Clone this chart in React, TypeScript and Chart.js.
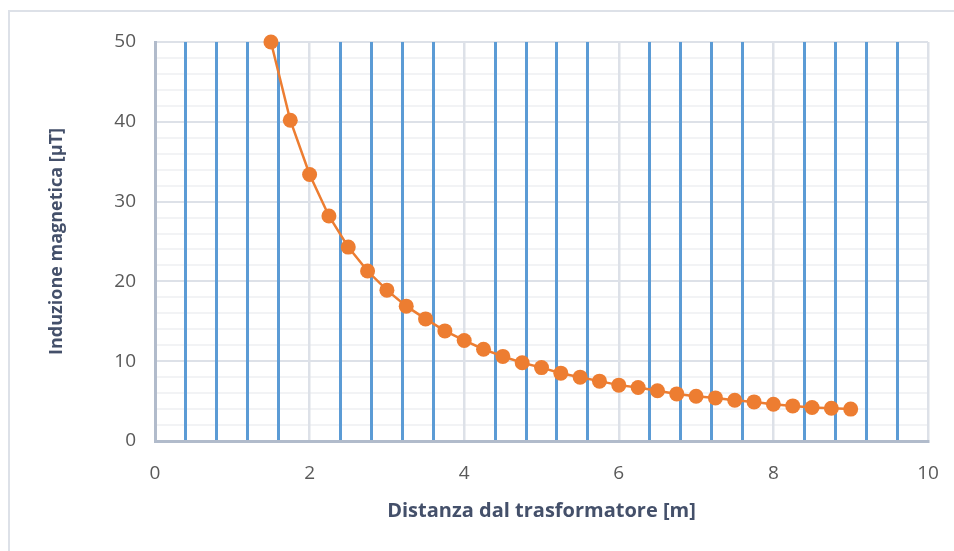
import React, { useEffect, useRef } from "react";
import { Chart, registerables } from "chart.js";

Chart.register(...registerables);

const distances = [1.5, 1.75, 2.0, 2.25, 2.5, 2.75, 3.0, 3.25, 3.5, 3.75, 4.0, 4.25, 4.5, 4.75, 5.0, 5.25, 5.5, 5.75, 6.0, 6.25, 6.5, 6.75, 7.0, 7.25, 7.5, 7.75, 8.0, 8.25, 8.5, 8.75, 9.0];
const induction = [50, 40.2, 33.4, 28.2, 24.3, 21.3, 18.9, 16.9, 15.3, 13.8, 12.6, 11.5, 10.6, 9.8, 9.2, 8.5, 8.0, 7.5, 7.0, 6.7, 6.3, 5.9, 5.6, 5.4, 5.1, 4.9, 4.6, 4.4, 4.2, 4.1, 4.0];
const xTitle = "Distanza dal trasformatore [m]";
const yTitle = "Induzione magnetica [µT]";
const xMin = 0, xMax = 10, xGridStep = 0.4, xLabelStep = 2;
const yMin = 0, yMax = 50, yGridStep = 2, yLabelStep = 10;

const isMultiple = (v: number, s: number) => Math.abs(v / s - Math.round(v / s)) < 1e-6;

const FONT = '"Open Sans", "Liberation Sans", sans-serif';

export default function App() {
  const ref = useRef<HTMLCanvasElement | null>(null);
  useEffect(() => {
    if (!ref.current) return;
    const chart = new Chart(ref.current, {
      type: "scatter",
      data: {
        datasets: [
          {
            data: distances.map((x, i) => ({ x, y: induction[i] })),
            showLine: true,
            borderColor: "#ED7D31",
            backgroundColor: "#ED7D31",
            borderWidth: 2.5,
            pointRadius: 7.5,
            pointHoverRadius: 7.5,
            pointBorderWidth: 0,
            clip: false,
          } as any,
        ],
      },
      options: {
        animation: false,
        responsive: false,
        maintainAspectRatio: false,
        layout: { padding: { left: 0, top: 42, right: 26, bottom: 0 } },
        plugins: { legend: { display: false }, tooltip: { enabled: false } },
        scales: {
          x: {
            type: "linear",
            min: xMin,
            max: xMax,
            afterFit: (s: any) => { s.height = 110; s.paddingLeft = 0; s.paddingRight = 0; },
            ticks: {
              stepSize: xGridStep,
              autoSkip: false,
              maxRotation: 0,
              padding: 21,
              color: "#595959",
              font: { family: FONT, size: 19 },
              callback: (v: any) => (isMultiple(Number(v), xLabelStep) ? String(Math.round(Number(v))) : ""),
            },
            grid: {
              z: -1,
              drawTicks: false,
              color: (c: any) => (isMultiple(c.tick.value, xLabelStep) ? "#dde1e8" : "#5b9bd5"),
              lineWidth: (c: any) => (isMultiple(c.tick.value, xLabelStep) ? 2.5 : 3),
            },
            border: { color: "#b1bbcb", width: 3 },
            title: {
              display: true,
              text: xTitle,
              color: "#44506a",
              font: { family: FONT, size: 20, weight: "bold" },
              padding: { top: 0, bottom: 28 },
            },
          },
          y: {
            type: "linear",
            min: yMin,
            max: yMax,
            afterFit: (s: any) => { s.width = 155; s.paddingTop = 0; s.paddingBottom = 0; },
            ticks: {
              stepSize: yGridStep,
              autoSkip: false,
              padding: 19,
              color: "#595959",
              font: { family: FONT, size: 19 },
              callback: (v: any) => (isMultiple(Number(v), yLabelStep) ? String(Math.round(Number(v))) : ""),
            },
            grid: {
              z: -2,
              drawTicks: false,
              color: (c: any) => (isMultiple(c.tick.value, yLabelStep) ? "#dde1e8" : "#f2f3f5"),
              lineWidth: 2,
            },
            border: { color: "#b1bbcb", width: 3 },
            title: {
              display: true,
              text: yTitle,
              color: "#44506a",
              font: { family: FONT, size: 18, weight: "bold" },
              padding: { top: 46, bottom: 0 },
            },
          },
        },
      },
    });
    return () => chart.destroy();
  }, []);
  return (
    <div style={{ position: "fixed", left: 0, top: 0, width: 954, height: 551, background: "#fff" }}>
      <div style={{ position: "absolute", left: 8, top: 10, width: 960, height: 560, border: "2px solid #dde1e8", boxSizing: "border-box" }} />
      <canvas ref={ref} width={954} height={551} style={{ position: "absolute", left: 0, top: 0, width: 954, height: 551 }} />
    </div>
  );
}
